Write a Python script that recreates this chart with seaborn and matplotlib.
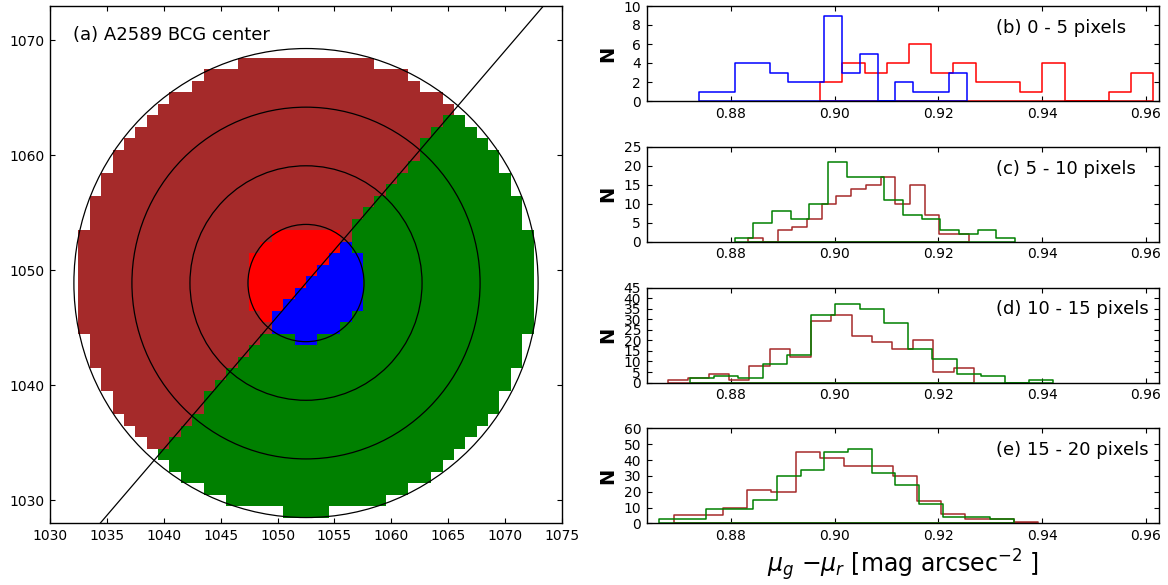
import numpy as np
import matplotlib
matplotlib.use("Agg")
import matplotlib.pyplot as plt
from matplotlib.colors import ListedColormap
from matplotlib.patches import Circle
import seaborn as sns

sns.set_style("ticks")
plt.rcParams["font.family"] = ["DejaVu Sans"]
plt.rcParams["mathtext.fontset"] = "dejavusans"
plt.rcParams["text.color"] = "black"
plt.rcParams["axes.labelcolor"] = "black"
plt.rcParams["xtick.color"] = "black"
plt.rcParams["ytick.color"] = "black"

# ---------------- (a) pixel map around the BCG centre ----------------
center_x, center_y = 1052.5, 1048.9
x_pixels = np.arange(1033, 1073)          # pixel centres along x
y_pixels = np.arange(1029, 1069)          # pixel centres along y
inner_radius = 5.0                        # pixels
outer_radius = 20.0                       # pixels
ring_radii = [5.1, 10.2, 15.3, 20.4]
divider_slope = 1.155
# outer-upper, outer-lower, inner-upper, inner-lower
region_colors = ["#a52a2a", "#008000", "#ff0000", "#0000ff"]

# ---------------- histograms: colour distributions per annulus ----------------
ann_b_red_range = (0.8972, 0.9615)
ann_b_red_counts = [2, 4, 3, 4, 6, 3, 4, 2, 2, 1, 4, 0, 0, 1, 3]
ann_b_blue_range = (0.8738, 0.9255)
ann_b_blue_counts = [1, 1, 4, 4, 3, 2, 2, 9, 3, 5, 0, 2, 1, 1, 3]

ann_c_brown_range = (0.8833, 0.9259)
ann_c_brown_counts = [1, 0, 3, 4, 6, 10, 12, 14, 15, 17, 10, 15, 7, 2, 2]
ann_c_green_range = (0.8807, 0.9348)
ann_c_green_counts = [1, 5, 8, 6, 10, 21, 17, 17, 11, 7, 6, 3, 2, 3, 1]

ann_d_brown_range = (0.8678, 0.9269)
ann_d_brown_counts = [1, 2, 4, 1, 8, 16, 12, 29, 32, 22, 19, 16, 20, 5, 7]
ann_d_green_range = (0.8721, 0.9422)
ann_d_green_counts = [2, 3, 2, 9, 13, 32, 37, 35, 28, 16, 11, 4, 3, 0, 1]

ann_e_brown_range = (0.8691, 0.9392)
ann_e_brown_counts = [5, 5, 10, 21, 20, 45, 41, 36, 36, 30, 14, 6, 3, 3, 1]
ann_e_green_range = (0.8661, 0.9345)
ann_e_green_counts = [3, 3, 9, 9, 15, 30, 34, 45, 47, 32, 24, 12, 4, 4, 3]

panel_titles = ["(b) 0 - 5 pixels", "(c) 5 - 10 pixels",
                "(d) 10 - 15 pixels", "(e) 15 - 20 pixels"]
panel_yticks = [np.arange(0, 11, 2), np.arange(0, 26, 5),
                np.arange(0, 46, 5), np.arange(0, 61, 10)]
hist_xticks = [0.88, 0.90, 0.92, 0.94, 0.96]
hist_xlim = (0.86374, 0.96262)

panel_series = [
    [("#ff0000", ann_b_red_range, ann_b_red_counts),
     ("#0000ff", ann_b_blue_range, ann_b_blue_counts)],
    [("#a52a2a", ann_c_brown_range, ann_c_brown_counts),
     ("#008000", ann_c_green_range, ann_c_green_counts)],
    [("#a52a2a", ann_d_brown_range, ann_d_brown_counts),
     ("#008000", ann_d_green_range, ann_d_green_counts)],
    [("#a52a2a", ann_e_brown_range, ann_e_brown_counts),
     ("#008000", ann_e_green_range, ann_e_green_counts)],
]

W, H = 1168, 585
fig = plt.figure(figsize=(W / 100, H / 100), dpi=100)


def style_axes(ax):
    ax.tick_params(direction="in", top=True, right=True, length=3.4, width=0.8,
                   labelsize=10, pad=4, colors="black")
    for s in ax.spines.values():
        s.set_linewidth(1.0)
        s.set_color("black")


# ---------- left panel ----------
axL = fig.add_axes([50 / W, (H - 523.3) / H, 512 / W, 517.3 / H])
gx, gy = np.meshgrid(x_pixels, y_pixels)
dx = gx - center_x
dy = gy - center_y
r = np.hypot(dx, dy)
upper = dy > divider_slope * dx
region = np.where(r <= inner_radius, np.where(upper, 2, 3), np.where(upper, 0, 1))
region = np.ma.masked_where(r > outer_radius, region)
x_edges = np.append(x_pixels - 0.5, x_pixels[-1] + 0.5)
y_edges = np.append(y_pixels - 0.5, y_pixels[-1] + 0.5)
axL.pcolormesh(x_edges, y_edges, region, cmap=ListedColormap(region_colors),
               vmin=-0.5, vmax=3.5, shading="flat", antialiased=False, linewidth=0)
for rr in ring_radii:
    axL.add_patch(Circle((center_x, center_y), rr, fill=False, ec="black", lw=0.9, zorder=3))
axL.axline((center_x, center_y), slope=divider_slope, color="black", lw=0.9, zorder=3)
axL.set_xlim(1030, 1075)
axL.set_ylim(1028, 1073)
axL.set_xticks(np.arange(1030, 1076, 5))
axL.set_yticks(np.arange(1030, 1071, 10))
axL.text(0.045, 0.943, "(a) A2589 BCG center", transform=axL.transAxes,
         ha="left", va="center", fontsize=13)
style_axes(axL)

# ---------- right panels ----------
ax_left, ax_width = 646.7, 512.6
panel_h = 95
tops = [6, 146.8, 287.6, 428.4]
for i, (title, series, yt) in enumerate(zip(panel_titles, panel_series, panel_yticks)):
    bottom_px = tops[i] + panel_h
    ax = fig.add_axes([ax_left / W, (H - bottom_px) / H, ax_width / W, panel_h / H])
    for color, (lo, hi), counts in series:
        edges = np.linspace(lo, hi, len(counts) + 1)
        centers = 0.5 * (edges[:-1] + edges[1:])
        sns.histplot(x=centers, weights=counts, bins=edges.tolist(), element="step",
                     fill=True, color=color, facecolor="none", edgecolor=color,
                     linewidth=1.1, ax=ax)
    ax.set_xlim(*hist_xlim)
    ax.set_ylim(yt[0], yt[-1])
    ax.set_yticks(yt)
    ax.set_xticks(hist_xticks)
    ax.set_xticklabels([f"{t:.2f}" for t in hist_xticks])
    ax.set_ylabel("N", fontsize=14, fontweight="bold")
    ax.yaxis.set_label_coords(-0.058, 0.5)
    ax.set_xlabel("")
    ax.text(0.681, 0.77, title, transform=ax.transAxes, ha="left", va="center",
            fontsize=13)
    style_axes(ax)
    if i == 3:
        ax.set_xlabel(r"$\mu_g$ $-\mu_r$ [mag arcsec$^{-2}$ ]", fontsize=17, labelpad=3)

fig.savefig("out.png", dpi=100)
